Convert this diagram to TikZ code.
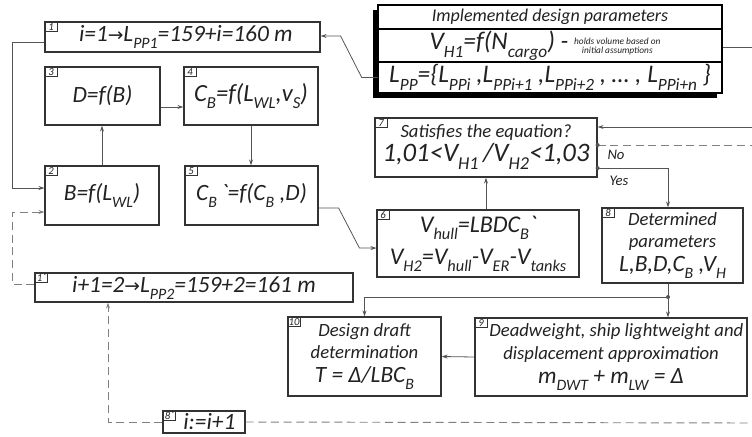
\documentclass[tikz,border=0pt]{standalone}
\usepackage{fontspec}
\setmainfont{Carlito}
\newfontfamily\symfont{DejaVu Sans}
\usetikzlibrary{arrows.meta,shadows}
\definecolor{ink}{HTML}{222222}
\definecolor{edge}{HTML}{333333}
\definecolor{wire}{HTML}{555555}
\definecolor{dwire}{HTML}{808080}
\newcommand\lo[1]{\raisebox{-0.3em}{\scalebox{0.68}{#1}}}
\newcommand\ar{{\symfont\scalebox{0.8}{→}}}
\newcommand\fbig{\fontsize{17.5}{20}\selectfont}
\newcommand\fmid{\fontsize{14}{17}\selectfont}
\newcommand\grv{\textasciigrave}
\tikzset{
  box/.style={draw=edge, line width=0.9pt, fill=white, text=ink, font=\itshape, inner sep=0pt, align=center},
  tagbox/.style={draw=edge, line width=0.6pt, inner sep=0.6pt, minimum width=9.5pt, minimum height=7.5pt, font=\itshape\fontsize{8}{8}\selectfont, text=ink},
  conn/.style={draw=wire, line width=0.6pt},
  dconn/.style={draw=dwire, line width=0.7pt, dash pattern=on 6pt off 3.5pt},
  tip/.style={-{Stealth[length=4.5pt,width=3pt]}},
  dot/.style={circle, fill=wire, inner sep=0pt, minimum size=3pt},
  lbl/.style={text=ink, font=\itshape\fontsize{11}{12}\selectfont, inner sep=0pt}
}
\begin{document}
\begin{tikzpicture}[x=0.75pt,y=-0.75pt]
\useasboundingbox (0,0) rectangle (752,436);
% top-right parameter box
\node[draw=black, line width=1.3pt, fill=white, minimum width=258pt, minimum height=66pt, inner sep=0pt,
  drop shadow={shadow xshift=-3.5pt, shadow yshift=-3.5pt, opacity=1, fill=black}] (big) at (550,49) {};
\draw[black, line width=0.9pt] (378,29) -- (722,29);
\draw[black, line width=0.9pt] (378,62) -- (722,62);
\node[text=ink, font=\itshape\fontsize{13.5}{15}\selectfont, inner sep=0pt] (r1) at (550,17) {Implemented design parameters};
\node[text=ink, font=\itshape\fontsize{19}{21}\selectfont, inner sep=0pt] (r2) at (545,45.5) {V\lo{H1}=f(N\lo{cargo}) - {\fontsize{7}{7.5}\selectfont\begin{tabular}[c]{@{}c@{}}holds volume based on\\[-1pt] initial assumptions\end{tabular}}};
\node[text=ink, font=\itshape\fontsize{19}{21}\selectfont, inner sep=0pt, minimum width=258pt, minimum height=23pt] (r3) at (550,77.5) {L\lo{PP}=\{L\lo{PPi} ,L\lo{PPi+1} ,L\lo{PPi+2} , \dots\ , L\lo{PPi+n} \}};
% left boxes
\node[box, font=\itshape\fbig, minimum width=206.25pt, minimum height=22.5pt] (b1) at (182.5,37) {\hspace*{5pt}i=1\ar L\lo{PP1}=159+i=160 m};
\node[box, font=\itshape\fbig, minimum width=86.25pt, minimum height=43.5pt] (b3) at (102.5,96) {D=f(B)};
\node[box, font=\itshape\fontsize{18.5}{20}\selectfont, minimum width=100.5pt, minimum height=43.5pt] (b4) at (251,96) {C\lo{B}=f(L\lo{WL},v\lo{S})};
\node[box, font=\itshape\fbig, minimum width=85.5pt, minimum height=44.25pt] (b2) at (102,195.5) {B=f(L\lo{WL})};
\node[box, font=\itshape\fbig, minimum width=99.75pt, minimum height=44.25pt] (b5) at (251.5,195.5) {C\lo{B}\,\grv=f(C\lo{B} ,D)};
\node[box, font=\itshape\fbig, minimum width=238.5pt, minimum height=21.75pt] (b1p) at (194,287.5) {i+1=2\ar L\lo{PP2}=159+2=161 m};
\node[box, font=\itshape\fbig, minimum width=61.5pt, minimum height=16.5pt] (b8p) at (204,422) {\hspace*{8pt}i:=i+1};
% right boxes
\node[box, font=\itshape\fmid, minimum width=166.5pt, minimum height=44.25pt] (b7) at (486,147.5) {Satisfies the equation?\\[1pt]\fontsize{20}{21}\selectfont 1,01<V\lo{H1}\,/V\lo{H2}<1,03};
\node[box, font=\itshape\fontsize{18}{20}\selectfont, minimum width=151.5pt, minimum height=50.25pt] (b6) at (478,243.5) {V\lo{hull}=LBDC\lo{B}\grv\\[4pt]V\lo{H2}=V\lo{hull}-V\lo{ER}-V\lo{tanks}};
\node[box, font=\itshape\fmid, minimum width=105.75pt, minimum height=56.25pt] (b8) at (672.5,245.5) {Determined\\parameters\\[1pt]\fbig L,B,D,C\lo{B} ,V\lo{H}};
\node[box, font=\itshape\fmid, minimum width=204pt, minimum height=58.5pt] (b9) at (611,357) {\hspace*{8pt}Deadweight, ship lightweight and\\displacement approximation\\[1pt]\fbig m\lo{DWT} + m\lo{LW} = Δ};
\node[box, font=\itshape\fmid, minimum width=114.75pt, minimum height=59.25pt] (b10) at (364.5,356.5) {Design draft\\determination\\[1pt]\fbig T = Δ/LBC\lo{B}};
% tags
\node[tagbox, anchor=north west] (t1) at (b1.north west) {1};
\node[tagbox, anchor=north west] (t3) at (b3.north west) {3};
\node[tagbox, anchor=north west] (t4) at (b4.north west) {4};
\node[tagbox, anchor=north west] (t2) at (b2.north west) {2};
\node[tagbox, anchor=north west] (t5) at (b5.north west) {5};
\node[tagbox, anchor=north west] (t1p) at (b1p.north west) {1\grv};
\node[tagbox, anchor=north west] (t8p) at (b8p.north west) {8\grv};
\node[tagbox, anchor=north west] (t7) at (b7.north west) {7};
\node[tagbox, anchor=north west] (t6) at (b6.north west) {6};
\node[tagbox, anchor=north west] (t8) at (b8.north west) {8};
\node[tagbox, anchor=north west] (t9) at (b9.north west) {9};
\node[tagbox, anchor=north west] (t10) at (b10.north west) {10};
% free ends
\coordinate (bigR) at (752,47);
\coordinate (inR) at (752,127);
\coordinate (noR) at (752,145);
\coordinate (loopR) at (752,423);
\coordinate (j) at (668,297);
% connectors
\draw[conn] (big.east |- bigR) -- (bigR);
\draw[conn,tip] (r3.west) -- ++(-16,0) -- ([xshift=15pt,yshift=0.75pt]b1.east) -- ([yshift=0.75pt]b1.east);
\draw[conn,tip] ([yshift=-4pt]b1.west) -- ++(-32,0) |- ([yshift=5.6pt]b2.west);
\draw[dconn,tip] ([yshift=2.6pt]b1p.west) -- ++(-22,0) |- ([yshift=-12.4pt]b2.west);
\draw[conn,tip] (b2.north) -- (b2.north |- b3.south);
\draw[conn,tip] ([yshift=-8.25pt]b3.east) -- ([yshift=-8.25pt]b4.west);
\draw[conn,tip] (b4.south) -- (b4.south |- b5.north);
\draw[conn,tip] ([yshift=-9.4pt]b5.east) -- ++(20,0) -- ([xshift=-12.75pt,yshift=-3.4pt]b6.west) -- ([yshift=-3.4pt]b6.west);
\draw[conn,tip] (b7.south |- b6.north) -- (b7.south);
\draw[conn,tip] (inR) -- (b7.east |- inR);
\draw[dconn] (b7.east |- noR) -- (noR);
\node[dot] (dno) at (b7.east |- noR) {};
\draw[conn,tip] ([yshift=-15.4pt]b7.east) -| (b8.north -| j);
\node[dot] (dyes) at ([yshift=-15.4pt]b7.east) {};
\draw[conn,tip] (b8.south -| j) -- (j) -- (j |- b9.north);
\node[dot] (dj) at (j) {};
\draw[conn,tip] (j) -| (b10.north);
\draw[conn,tip] (b9.west) -- (b10.east);
\draw[dconn,tip] (b8p.west) -| ([xshift=-64.5pt]b1p.south);
\draw[dconn] (b8p.east) -- (loopR);
\node[lbl] (no) at (616,155) {No};
\node[lbl] (yes) at (619,181) {Yes};
\end{tikzpicture}
\end{document}
